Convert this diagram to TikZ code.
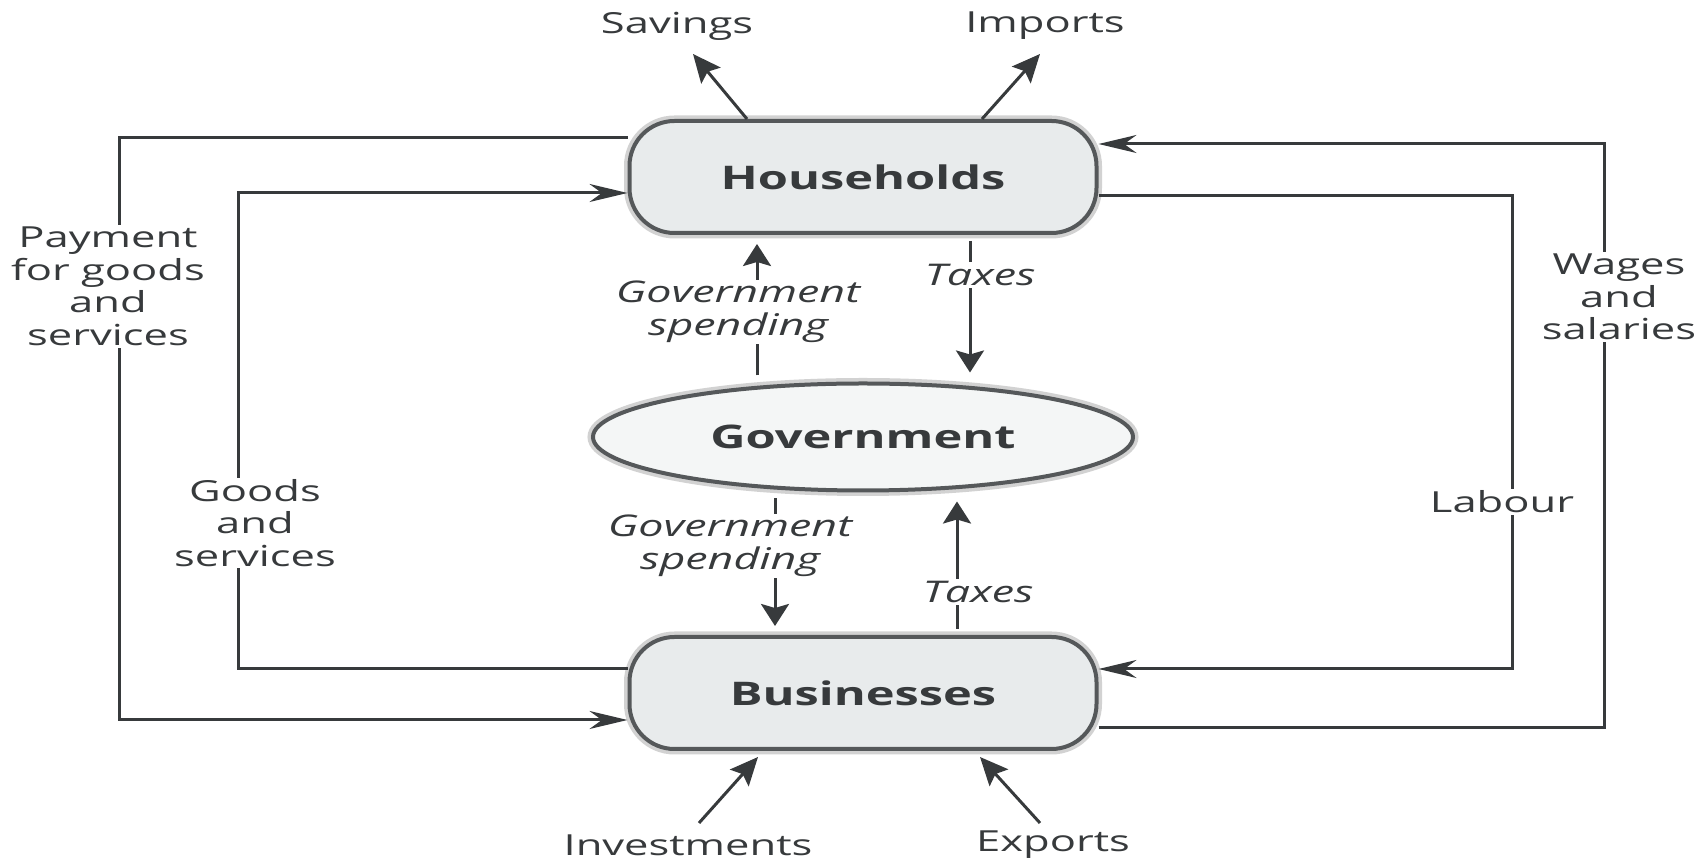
\documentclass[tikz,border=0pt]{standalone}
\usepackage{fontspec}
\setmainfont{Open Sans}[FakeStretch=1.5]
\usetikzlibrary{positioning, arrows.meta, shapes.geometric}
\definecolor{inkgray}{RGB}{55,58,60}
\definecolor{boxfill}{RGB}{232,235,236}
\definecolor{govfill}{RGB}{244,246,246}
\definecolor{rimgray}{RGB}{85,88,90}

\begin{document}
\begin{tikzpicture}[
        sector/.style={draw=rimgray, line width=0.08cm, rounded corners=0.9cm, fill=boxfill, minimum width=9.34cm, minimum height=2.24cm, text=inkgray, font=\fontsize{18.5}{22}\selectfont\bfseries, preaction={draw=gray!35, line width=0.22cm}},
        central/.style={ellipse, draw=rimgray, line width=0.08cm, fill=govfill, minimum width=10.8cm, minimum height=2.14cm, inner sep=0pt, text=inkgray, font=\fontsize{18.5}{22}\selectfont\bfseries, preaction={draw=gray!35, line width=0.22cm}},
        flowlabel/.style={align=center, fill=white, inner sep=1pt, text=inkgray, font=\fontsize{16.5}{18.5}\selectfont},
        govlabel/.style={flowlabel, font=\fontsize{17}{18.5}\selectfont\itshape},
        flow/.style={draw=inkgray, line width=0.06cm, -{Stealth[length=0.76cm, width=0.36cm]}},
        govflow/.style={draw=inkgray, line width=0.06cm, shorten >=0.18cm, shorten <=0.12cm, -{Stealth[length=0.44cm, width=0.56cm, inset=0.08cm]}},
        trade/.style={draw=inkgray, line width=0.06cm, -{Stealth[length=0.56cm, width=0.5cm, inset=0.1cm]}}
    ]
    \useasboundingbox (0,0) rectangle (33.96,17.26);

    % Sectors
    \node[sector] (house) at (17.26, 13.72) {Households};
    \node[central] (gov) at (17.26, 8.52) {Government};
    \node[sector] (firm) at (17.26, 3.40) {Businesses};

    % Rails of the loops
    \coordinate (payrail) at (2.38, 11.53);
    \coordinate (goodsrail) at (4.76, 6.8);
    \coordinate (labourrail) at (30.24, 7.22);
    \coordinate (wagerail) at (32.08, 11.32);

    % Loops round the sectors
    \draw[flow] ([yshift=0.79cm]house.west) -| (payrail) |- ([yshift=-0.54cm]firm.west);
    \draw[flow] ([yshift=0.48cm]firm.west) -| (goodsrail) |- ([yshift=-0.32cm]house.west);
    \draw[flow] ([yshift=-0.38cm]house.east) -| (labourrail) |- ([yshift=0.48cm]firm.east);
    \draw[flow] ([yshift=-0.70cm]firm.east) -| (wagerail) |- ([yshift=0.66cm]house.east);

    % Flows through government
    \draw[govflow] ([xshift=-2.12cm]gov.north) -- ([xshift=-2.12cm]house.south);
    \draw[govflow] ([xshift=2.14cm]house.south) -- ([xshift=2.14cm]gov.north);
    \draw[govflow] ([xshift=-1.76cm]gov.south) -- ([xshift=-1.76cm]firm.north);
    \draw[govflow] ([xshift=1.88cm]firm.north) -- ([xshift=1.88cm]gov.south);

    % Leakages and injections
    \node[flowlabel] (savings) at (13.54, 16.74) {Savings};
    \node[flowlabel] (imports) at (20.9, 16.74) {Imports};
    \node[flowlabel] (invest) at (13.76, 0.36) {Investments};
    \node[flowlabel] (exports) at (21.06, 0.36) {Exports};
    \coordinate (savtip) at (13.86, 16.18);
    \coordinate (imptip) at (20.80, 16.18);
    \coordinate (invtail) at (13.98, 0.80);
    \coordinate (exptail) at (20.80, 0.80);
    \draw[trade] ([xshift=-2.32cm]house.north) -- (savtip);
    \draw[trade] ([xshift=2.38cm]house.north) -- (imptip);
    \draw[trade] (invtail) -- ([xshift=-2.1cm, yshift=-0.12cm]firm.south);
    \draw[trade] (exptail) -- ([xshift=2.34cm, yshift=-0.12cm]firm.south);

    % Loop labels
    \node[flowlabel] (payment) at (2.16, 11.53) {Payment\\for goods\\and\\services};
    \node[flowlabel] (goods) at (5.1, 6.8) {Goods\\and\\services};
    \node[flowlabel] (labour) at (30.04, 7.22) {Labour};
    \node[flowlabel] (wages) at (32.38, 11.32) {Wages\\and\\salaries};

    % Government labels
    \node[govlabel] (spendup) at (14.76, 11.02) {Government\\spending};
    \node[govlabel] (taxdown) at (19.6, 11.76) {Taxes};
    \node[govlabel] (spenddown) at (14.6, 6.34) {Government\\spending};
    \node[govlabel] (taxup) at (19.56, 5.42) {Taxes};

\end{tikzpicture}
\end{document}
